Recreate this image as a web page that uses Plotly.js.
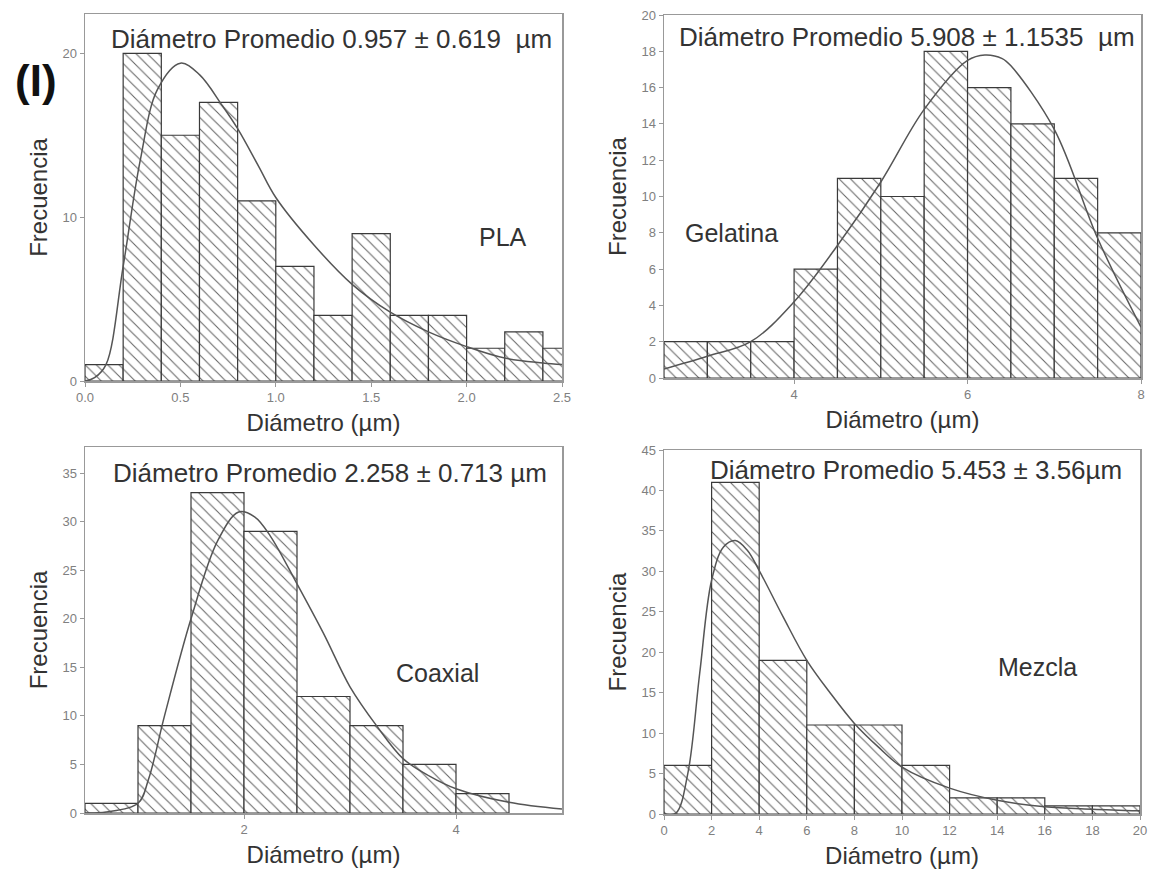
<!DOCTYPE html>
<html>
<head>
<meta charset="utf-8">
<script src="https://cdn.plot.ly/plotly-3.0.1.min.js"></script>
<style>html,body{margin:0;padding:0;background:#fff;}</style>
</head>
<body>
<div id="chart" style="width:1156px;height:884px;"></div>
<script>
// ---------- DATA ----------
// PLA
const plaBinStart = [0.0, 0.2, 0.4, 0.6, 0.8, 1.0, 1.2, 1.4, 1.6, 1.8, 2.0, 2.2, 2.4];
const plaBinWidth = 0.2;
const plaCounts   = [1, 20, 15, 17, 11, 7, 4, 9, 4, 4, 2, 3, 2];
const plaFitX = [0.0, 0.05, 0.11, 0.2, 0.29, 0.38, 0.5, 0.6, 0.72, 0.8, 0.91, 1.0, 1.2, 1.4, 1.6, 1.8, 2.0, 2.2, 2.4, 2.5];
const plaFitY = [0.0, 0.2, 1.0, 7.0, 13.5, 17.8, 19.4, 18.7, 16.8, 15.4, 13.1, 11.2, 8.3, 5.9, 4.2, 3.0, 2.1, 1.4, 1.1, 1.0];
const plaLabel = 'Diámetro Promedio 0.957 ± 0.619\u00A0\u00A0µm';

// Gelatina
const gelBinStart = [2.5, 3.0, 3.5, 4.0, 4.5, 5.0, 5.5, 6.0, 6.5, 7.0, 7.5];
const gelBinWidth = 0.5;
const gelCounts   = [2, 2, 2, 6, 11, 10, 18, 16, 14, 11, 8];
const gelFitX = [2.5, 3.0, 3.5, 4.0, 4.5, 5.0, 5.5, 6.0, 6.2, 6.4, 6.5, 7.0, 7.5, 8.0];
const gelFitY = [0.5, 1.2, 2.0, 4.2, 7.3, 10.8, 14.8, 17.5, 17.8, 17.6, 17.2, 13.7, 7.7, 2.8];
const gelLabel = 'Diámetro Promedio 5.908 ± 1.1535\u00A0\u00A0µm';

// Coaxial
const coaBinStart = [0.5, 1.0, 1.5, 2.0, 2.5, 3.0, 3.5, 4.0];
const coaBinWidth = 0.5;
const coaCounts   = [1, 9, 33, 29, 12, 9, 5, 2];
const coaFitX = [0.5, 0.7, 1.0, 1.1, 1.25, 1.5, 1.75, 1.95, 2.1, 2.25, 2.5, 2.75, 3.0, 3.25, 3.5, 3.75, 4.0, 4.5, 5.0];
const coaFitY = [0.0, 0.1, 1.0, 3.5, 10.0, 20.0, 28.0, 31.0, 30.5, 28.5, 23.6, 18.5, 13.0, 9.0, 5.6, 3.8, 2.5, 1.1, 0.4];
const coaLabel = 'Diámetro Promedio 2.258 ± 0.713 µm';

// Mezcla
const mezBinStart = [0, 2, 4, 6, 8, 10, 12, 14, 16, 18];
const mezBinWidth = 2;
const mezCounts   = [6, 41, 19, 11, 11, 6, 2, 2, 1, 1];
const mezFitX = [0, 0.5, 1, 1.5, 2, 2.5, 3, 3.5, 4, 5, 6, 7, 8, 9, 10, 12, 14, 16, 18, 20];
const mezFitY = [0, 0.1, 5.0, 17.4, 28.9, 33.0, 33.8, 32.6, 30.1, 24.4, 19.0, 14.9, 11.2, 8.3, 5.8, 3.2, 1.7, 0.9, 0.6, 0.4];
const mezLabel = 'Diámetro Promedio 5.453 ± 3.56µm';

const sampleNames = ['PLA', 'Gelatina', 'Coaxial', 'Mezcla'];
const xTitle = 'Diámetro (µm)';
const yTitle = 'Frecuencia';
const panelTag = '(I)';

// ---------- LAYOUT (pixel geometry) ----------
const W = 1156, H = 884;
const FONT = 'Liberation Sans, Arial, Helvetica, sans-serif';
const panels = [
  {l: 85,  r: 562,  t: 14,  b: 381, xr: [0, 2.5], yr: [0, 22.4], xd: 0.5, yd: 10, xf: '.1f',
   title: [331, 39], name: [503, 237]},
  {l: 664, r: 1141, t: 15,  b: 378, xr: [2.5, 8], yr: [0, 20],   xd: 2,   yd: 2,  xf: '',
   title: [907, 37], name: [731, 233]},
  {l: 85,  r: 562,  t: 447, b: 813, xr: [0.5, 5], yr: [0, 37.7], xd: 2,   yd: 5,  xf: '',
   title: [330, 473], name: [437, 673]},
  {l: 664, r: 1140, t: 450, b: 814, xr: [0, 20],  yr: [0, 45],   xd: 2,   yd: 5,  xf: '',
   title: [916, 470], name: [1037, 667]}
];
const sets = [
  {start: plaBinStart, w: plaBinWidth, c: plaCounts, fx: plaFitX, fy: plaFitY, label: plaLabel},
  {start: gelBinStart, w: gelBinWidth, c: gelCounts, fx: gelFitX, fy: gelFitY, label: gelLabel},
  {start: coaBinStart, w: coaBinWidth, c: coaCounts, fx: coaFitX, fy: coaFitY, label: coaLabel},
  {start: mezBinStart, w: mezBinWidth, c: mezCounts, fx: mezFitX, fy: mezFitY, label: mezLabel}
];

const traces = [];
const layout = {
  width: W, height: H,
  margin: {l: 0, r: 0, t: 0, b: 0},
  paper_bgcolor: '#fff', plot_bgcolor: '#fff',
  showlegend: false,
  font: {family: FONT, color: '#333'},
  annotations: []
};

panels.forEach((p, i) => {
  const s = sets[i];
  const k = i === 0 ? '' : String(i + 1);
  const xa = 'x' + k, ya = 'y' + k;
  traces.push({
    type: 'bar',
    x: s.start.map(v => v + s.w / 2),
    y: s.c,
    width: s.w,
    xaxis: xa, yaxis: ya,
    marker: {
      color: '#ffffff',
      line: {color: '#3a3a3a', width: 1.2},
      pattern: {shape: '\\', fgcolor: '#666666', bgcolor: '#ffffff', size: 8, solidity: 0.13}
    },
    hoverinfo: 'skip'
  });
  traces.push({
    type: 'scatter', mode: 'lines',
    x: s.fx, y: s.fy,
    xaxis: xa, yaxis: ya,
    line: {color: '#555555', width: 1.5, shape: 'spline', smoothing: 1},
    hoverinfo: 'skip'
  });
  const axCommon = {
    showline: true, mirror: true, linecolor: '#999999', linewidth: 1.5,
    ticks: 'outside', ticklen: 4, tickcolor: '#999999', tickwidth: 1,
    tickfont: {family: FONT, size: 13, color: '#808080'},
    showgrid: false, zeroline: false, fixedrange: true, automargin: false
  };
  layout['xaxis' + k] = Object.assign({}, axCommon, {
    domain: [p.l / W, p.r / W], anchor: ya, range: p.xr,
    tick0: 0, dtick: p.xd, tickformat: p.xf,
    title: {text: xTitle, standoff: 10, font: {family: FONT, size: 24, color: '#333'}}
  });
  layout['yaxis' + k] = Object.assign({}, axCommon, {
    domain: [1 - p.b / H, 1 - p.t / H], anchor: xa, range: p.yr,
    tick0: 0, dtick: p.yd,
    title: {text: yTitle, standoff: 8, font: {family: FONT, size: 24, color: '#333'}}
  });
  layout.annotations.push({
    xref: 'paper', yref: 'paper', x: p.title[0] / W, y: 1 - p.title[1] / H,
    xanchor: 'center', yanchor: 'middle', showarrow: false,
    text: s.label, font: {family: FONT, size: 26, color: '#333'}
  });
  layout.annotations.push({
    xref: 'paper', yref: 'paper', x: p.name[0] / W, y: 1 - p.name[1] / H,
    xanchor: 'center', yanchor: 'middle', showarrow: false,
    text: sampleNames[i], font: {family: FONT, size: 25, color: '#333'}
  });
});

layout.annotations.push({
  xref: 'paper', yref: 'paper', x: 36 / W, y: 1 - 80 / H,
  xanchor: 'center', yanchor: 'middle', showarrow: false,
  text: '<b>' + panelTag + '</b>', font: {family: FONT, size: 44, color: '#111'}
});

Plotly.newPlot('chart', traces, layout, {staticPlot: true, displayModeBar: false});
</script>
</body>
</html>
